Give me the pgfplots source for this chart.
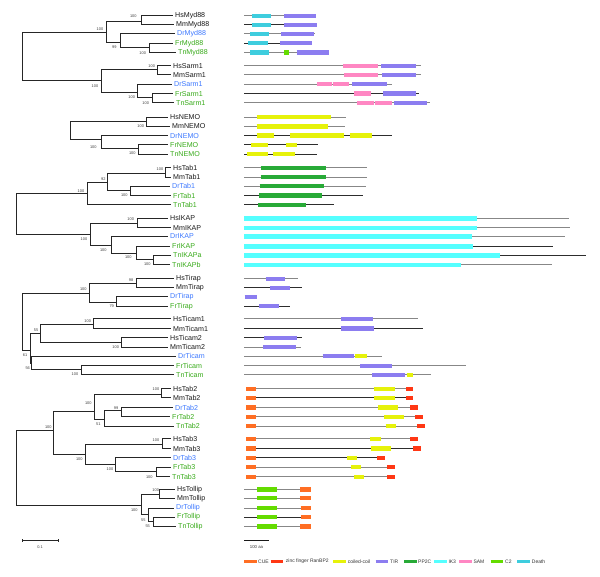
\documentclass[border=0pt]{standalone}
\usepackage{pgfplots}
\pgfplotsset{compat=1.18}
\usepackage{fontspec}
\setmainfont{Liberation Sans}
\definecolor{cHs}{RGB}{25,25,25}
\definecolor{cDr}{RGB}{60,120,255}
\definecolor{cFr}{RGB}{55,170,25}
\definecolor{lg}{RGB}{135,135,135}
\definecolor{lk}{RGB}{45,45,45}
\definecolor{cDeath}{RGB}{62,205,222}
\definecolor{cTIR}{RGB}{140,125,240}
\definecolor{cSAM}{RGB}{255,135,195}
\definecolor{cCC}{RGB}{230,242,10}
\definecolor{cPP}{RGB}{40,170,55}
\definecolor{cIK}{RGB}{85,255,255}
\definecolor{cCUE}{RGB}{255,110,35}
\definecolor{cZnF}{RGB}{255,55,20}
\definecolor{cC2}{RGB}{100,220,0}
\newcommand{\bb}[4]{\addplot[draw=#1,line width=1pt] coordinates {(#2,#4) (#3,#4)};}
\newcommand{\dm}[4]{\addplot[draw=#1,line width=4.3pt] coordinates {(#2,#4) (#3,#4)};}
\newcommand{\lgs}[3]{\addplot[draw=#1,line width=3.2pt] coordinates {(#2,561.5) (#3,561.5)};}
\newcommand{\nd}[5]{\addplot[draw=black!85,line width=1pt] coordinates {(#2,#3) (#1,#3) (#1,#5) (#4,#5)};}
\newcommand{\tx}[4]{\node[anchor=west,inner sep=0pt,text=#1,font=\fontsize{7.1}{8}\selectfont] at (axis cs:#2,#3) {#4};}
\newcommand{\bs}[3]{\node[inner sep=0pt,text=black!75,font=\fontsize{3.9}{4}\selectfont] at (axis cs:#1,#2) {#3};}
\newcommand{\lgt}[2]{\node[anchor=west,inner sep=0pt,text=black!80,font=\fontsize{5}{6}\selectfont] at (axis cs:#1,561.5) {#2};}
\begin{document}
\begin{tikzpicture}
\begin{axis}[at={(0,0)},anchor=south west,scale only axis,width=600pt,height=577pt,
  xmin=0,xmax=600,ymin=0,ymax=577,y dir=reverse,hide axis,clip=false]
% ---------------- tree ----------------
\nd{141.7}{172.5}{15.7}{173.5}{25}
\nd{149}{172.5}{43.3}{175.5}{52.5}
\nd{120}{174.5}{34}{149}{47.5}
\nd{106}{141.7}{22}{120}{42.7}
\nd{157.3}{170.5}{65.8}{170.5}{75}
\nd{152.3}{172.5}{93.6}{173.5}{102.8}
\nd{137.3}{171.5}{84.3}{152.3}{98}
\nd{101.7}{157.3}{70}{137.3}{92.7}
\nd{22}{106}{33}{101.7}{81}
\nd{146.7}{167.5}{117.2}{169.5}{126.5}
\nd{138.3}{167.5}{145}{167.5}{154.3}
\nd{101}{167.5}{135.6}{138.3}{148.3}
\nd{70}{146.7}{121.7}{101}{140}
\nd{165.7}{170.5}{168}{170.5}{177.2}
\nd{130}{169.5}{186.2}{170.5}{195.6}
\nd{107.3}{165.7}{173.3}{130}{191}
\nd{87.3}{107.3}{182.3}{170.5}{204.7}
\nd{137.3}{167.5}{218.5}{170.5}{228}
\nd{153.3}{170.5}{255.4}{169.5}{265}
\nd{136}{169.5}{246.5}{153.3}{260}
\nd{111.7}{167.5}{236.5}{136}{253.3}
\nd{90.7}{137.3}{223.3}{111.7}{245.3}
\nd{16.7}{87.3}{194}{90.7}{234.3}
\nd{136.7}{173.5}{278.8}{173.5}{287.8}
\nd{116.7}{167.5}{297}{167.5}{306.2}
\nd{89}{136.7}{284}{116.7}{302.7}
\nd{93.3}{170.5}{319}{170.5}{328.5}
\nd{121.7}{167.5}{338}{167.5}{347.2}
\nd{40.7}{93.3}{324.3}{121.7}{342.3}
\nd{81.7}{173.5}{365.8}{173.5}{375}
\nd{31.7}{175.5}{356.2}{81.7}{370}
\nd{30}{40.7}{333.3}{31.7}{363.3}
\nd{22.3}{89}{293.3}{30}{350.7}
\nd{161.7}{170.5}{389}{170.5}{397.8}
\nd{121.7}{172.5}{407.5}{169.5}{417}
\nd{104.3}{121.7}{411}{173.5}{426.3}
\nd{94.3}{161.7}{394.3}{104.3}{420}
\nd{162.3}{170.5}{439}{170.5}{448.5}
\nd{156.7}{170.5}{467.2}{169.5}{476.7}
\nd{115.7}{170.5}{458}{156.7}{471.7}
\nd{85}{162.3}{444.3}{115.7}{465}
\nd{53.3}{94.3}{411.7}{85}{454.3}
\nd{159}{174.5}{489.5}{174.5}{498.3}
\nd{153.3}{174.5}{517}{175.5}{526.5}
\nd{148.3}{173.5}{508}{153.3}{521.5}
\nd{141}{159}{494}{148.3}{514}
\nd{16.7}{53.3}{430.7}{141}{505.7}
% scale bar 0.1
\addplot[draw=black!85,line width=0.8pt] coordinates {(22,540.7) (58.3,540.7)};
\addplot[draw=black!85,line width=0.8pt] coordinates {(22,539) (22,542.4)};
\addplot[draw=black!85,line width=0.8pt] coordinates {(58.3,539) (58.3,542.4)};
\bs{40}{547}{0.1}
% bootstrap
\bs{133.3}{16}{100} \bs{100}{28.7}{100} \bs{114.3}{46.7}{99} \bs{142.7}{52.7}{100}
\bs{151.7}{66}{100} \bs{95}{86}{100} \bs{131.7}{97.3}{100} \bs{145.7}{102.7}{100}
\bs{140.7}{125.7}{100} \bs{93.3}{146.7}{100} \bs{132.3}{153.3}{100}
\bs{160}{169.3}{100} \bs{103.3}{179}{92} \bs{81}{190.7}{100} \bs{124.3}{195.3}{100}
\bs{130.7}{219.3}{100} \bs{84}{239}{100} \bs{103.3}{250}{100} \bs{128.3}{257.3}{100} \bs{147.3}{264}{100}
\bs{131}{280}{98} \bs{83.3}{289.3}{100} \bs{111.7}{306}{79}
\bs{87.7}{320.7}{100} \bs{36}{330}{55} \bs{115.7}{346.7}{100} \bs{25}{355}{61} \bs{27.7}{368.3}{56} \bs{75}{374.3}{100}
\bs{156}{389.3}{100} \bs{88.3}{403.3}{100} \bs{116}{407.7}{99} \bs{98.3}{424}{51} \bs{48.3}{426.7}{100}
\bs{156}{440}{100} \bs{79.3}{459.3}{100} \bs{110}{469.3}{100} \bs{149.3}{476.7}{100}
\bs{155.7}{490}{100} \bs{134.3}{510}{100} \bs{143.3}{520}{55} \bs{147.7}{526}{55}
% taxa labels
\tx{cHs}{175}{15.7}{HsMyd88} \tx{cHs}{176}{25}{MmMyd88} \tx{cDr}{177}{34}{DrMyd88} \tx{cFr}{175}{43.3}{FrMyd88} \tx{cFr}{178}{52.5}{TnMyd88}
\tx{cHs}{173}{65.8}{HsSarm1} \tx{cHs}{173}{75}{MmSarm1} \tx{cDr}{174}{84.3}{DrSarm1} \tx{cFr}{175}{93.6}{FrSarm1} \tx{cFr}{176}{102.8}{TnSarm1}
\tx{cHs}{170}{117.2}{HsNEMO} \tx{cHs}{172}{126.5}{MmNEMO} \tx{cDr}{170}{135.6}{DrNEMO} \tx{cFr}{170}{145}{FrNEMO} \tx{cFr}{170}{154.3}{TnNEMO}
\tx{cHs}{173}{168}{HsTab1} \tx{cHs}{173}{177.2}{MmTab1} \tx{cDr}{172}{186.2}{DrTab1} \tx{cFr}{173}{195.6}{FrTab1} \tx{cFr}{173}{204.7}{TnTab1}
\tx{cHs}{170}{218.5}{HsIKAP} \tx{cHs}{173}{228}{MmIKAP} \tx{cDr}{170}{236.5}{DrIKAP} \tx{cFr}{172}{246.5}{FrIKAP} \tx{cFr}{173}{255.4}{TnIKAPa} \tx{cFr}{172}{265}{TnIKAPb}
\tx{cHs}{176}{278.8}{HsTirap} \tx{cHs}{176}{287.8}{MmTirap} \tx{cDr}{170}{297}{DrTirap} \tx{cFr}{170}{306.2}{FrTirap}
\tx{cHs}{173}{319}{HsTicam1} \tx{cHs}{173}{328.5}{MmTicam1} \tx{cHs}{170}{338}{HsTicam2} \tx{cHs}{170}{347.2}{MmTicam2} \tx{cDr}{178}{356.2}{DrTicam} \tx{cFr}{176}{365.8}{FrTicam} \tx{cFr}{176}{375}{TnTicam}
\tx{cHs}{173}{389}{HsTab2} \tx{cHs}{173}{397.8}{MmTab2} \tx{cDr}{175}{407.5}{DrTab2} \tx{cFr}{172}{417}{FrTab2} \tx{cFr}{176}{426.3}{TnTab2}
\tx{cHs}{173}{439}{HsTab3} \tx{cHs}{173}{448.5}{MmTab3} \tx{cDr}{173}{458}{DrTab3} \tx{cFr}{173}{467.2}{FrTab3} \tx{cFr}{172}{476.7}{TnTab3}
\tx{cHs}{177}{489.5}{HsTollip} \tx{cHs}{177}{498.3}{MmTollip} \tx{cDr}{176}{508}{DrTollip} \tx{cFr}{177}{517}{FrTollip} \tx{cFr}{178}{526.5}{TnTollip}
% ---------------- domains ----------------
% Myd88
\bb{lg}{244}{316}{15.7} \dm{cDeath}{251.7}{271}{15.7} \dm{cTIR}{284}{316}{15.7}
\bb{lk}{244}{316.7}{25} \dm{cDeath}{251.7}{271}{25} \dm{cTIR}{284}{316.7}{25}
\bb{lg}{244}{314.7}{34} \dm{cDeath}{250}{269}{34} \dm{cTIR}{281}{313.7}{34}
\bb{lk}{244}{312.3}{43.3} \dm{cDeath}{248.3}{267.7}{43.3} \dm{cTIR}{280}{312}{43.3}
\bb{lg}{244}{329}{52.5} \dm{cDeath}{250}{269.3}{52.5} \dm{cC2}{284.3}{289}{52.5} \dm{cTIR}{296.7}{328.7}{52.5}
% Sarm1
\bb{lg}{244}{420.7}{65.8} \dm{cSAM}{343.3}{360.5}{65.8} \dm{cSAM}{360.9}{377.7}{65.8} \dm{cTIR}{381}{415.7}{65.8}
\bb{lg}{244}{421}{75} \dm{cSAM}{344}{360.5}{75} \dm{cSAM}{360.9}{377.7}{75} \dm{cTIR}{381.7}{415.7}{75}
\bb{lg}{244}{392.3}{84.3} \dm{cSAM}{317}{332.2}{84.3} \dm{cSAM}{332.6}{349}{84.3} \dm{cTIR}{352}{387}{84.3}
\bb{lk}{244}{419.3}{93.6} \dm{cSAM}{354.3}{371}{93.6} \dm{cTIR}{383.3}{416}{93.6}
\bb{lg}{244}{430}{102.8} \dm{cSAM}{357}{374.2}{102.8} \dm{cSAM}{374.6}{391.7}{102.8} \dm{cTIR}{394}{426.7}{102.8}
% NEMO
\bb{lg}{244}{346.3}{117.2} \dm{cCC}{256.7}{330.7}{117.2}
\bb{lg}{244}{344.7}{126.5} \dm{cCC}{256.7}{328.3}{126.5}
\bb{lk}{244}{391.7}{135.6} \dm{cCC}{256.7}{273.7}{135.6} \dm{cCC}{290.3}{344}{135.6} \dm{cCC}{350}{371.7}{135.6}
\bb{lk}{244}{318.3}{145} \dm{cCC}{251.3}{267.7}{145} \dm{cCC}{286.3}{297}{145}
\bb{lk}{244}{316.7}{154.3} \dm{cCC}{247.3}{267.7}{154.3} \dm{cCC}{273.3}{295.3}{154.3}
% Tab1
\bb{lg}{244}{367}{168} \dm{cPP}{260.7}{325.7}{168}
\bb{lg}{244}{366.7}{177.2} \dm{cPP}{260.7}{325.7}{177.2}
\bb{lg}{244}{365.7}{186.2} \dm{cPP}{259.7}{324}{186.2}
\bb{lk}{244}{363.3}{195.6} \dm{cPP}{259.3}{321.7}{195.6}
\bb{lk}{244}{333.7}{204.7} \dm{cPP}{258.3}{305.7}{204.7}
% IKAP
\bb{lg}{244}{569.3}{218.5} \dm{cIK}{244}{476.7}{218.5}
\bb{lg}{244}{569.7}{228} \dm{cIK}{244}{477.3}{228}
\bb{lg}{244}{565}{236.5} \dm{cIK}{244}{471.7}{236.5}
\bb{lk}{244}{553.3}{246.5} \dm{cIK}{244}{473.3}{246.5}
\bb{lk}{244}{586}{255.4} \dm{cIK}{244}{500}{255.4}
\bb{lg}{244}{552.3}{265} \dm{cIK}{244}{461}{265}
% Tirap
\bb{lg}{244}{298}{278.8} \dm{cTIR}{265.7}{285.3}{278.8}
\bb{lk}{244}{301.7}{287.8} \dm{cTIR}{270}{290.3}{287.8}
\dm{cTIR}{244.7}{257}{297}
\bb{lk}{244}{290}{306.2} \dm{cTIR}{259}{279}{306.2}
% Ticam
\bb{lg}{244}{418.3}{319} \dm{cTIR}{341}{372.7}{319}
\bb{lk}{244}{423.3}{328.5} \dm{cTIR}{341.3}{374.3}{328.5}
\bb{lk}{244}{301.7}{338} \dm{cTIR}{264}{296.7}{338}
\bb{lg}{244}{300.7}{347.2} \dm{cTIR}{263}{295.7}{347.2}
\bb{lg}{244}{382.3}{356.2} \dm{cTIR}{322.7}{354.3}{356.2} \dm{cCC}{355}{367}{356.2}
\bb{lg}{244}{466}{365.8} \dm{cTIR}{360}{392.3}{365.8}
\bb{lg}{244}{431}{375} \dm{cTIR}{372}{404.7}{375} \dm{cCC}{406.7}{413.3}{375}
% Tab2
\bb{lg}{246}{413.3}{389} \dm{cCUE}{246}{256.3}{389} \dm{cCC}{373.7}{395}{389} \dm{cZnF}{406}{413.3}{389}
\bb{lk}{246}{413.3}{397.8} \dm{cCUE}{246}{256.3}{397.8} \dm{cCC}{373.7}{395.3}{397.8} \dm{cZnF}{406}{413.3}{397.8}
\bb{lg}{246}{417.7}{407.5} \dm{cCUE}{246}{256.3}{407.5} \dm{cCC}{378}{397.7}{407.5} \dm{cZnF}{410}{417.7}{407.5}
\bb{lg}{246}{422.7}{417} \dm{cCUE}{246}{256.3}{417} \dm{cCC}{384}{403.7}{417} \dm{cZnF}{415.3}{422.7}{417}
\bb{lg}{246}{425}{426.3} \dm{cCUE}{246}{256.3}{426.3} \dm{cCC}{385.7}{396}{426.3} \dm{cZnF}{417.3}{425}{426.3}
% Tab3
\bb{lg}{246}{418}{439} \dm{cCUE}{246}{256.3}{439} \dm{cCC}{370}{381}{439} \dm{cZnF}{410.3}{418}{439}
\bb{lk}{246}{420.7}{448.5} \dm{cCUE}{246}{256.3}{448.5} \dm{cCC}{371}{390.7}{448.5} \dm{cZnF}{413}{420.7}{448.5}
\bb{lk}{246}{384.7}{458} \dm{cCUE}{246}{256.3}{458} \dm{cCC}{347}{357}{458} \dm{cZnF}{377}{384.7}{458}
\bb{lg}{246}{394.7}{467.2} \dm{cCUE}{246}{256.3}{467.2} \dm{cCC}{351.3}{361}{467.2} \dm{cZnF}{387.3}{394.7}{467.2}
\bb{lg}{246}{394.7}{476.7} \dm{cCUE}{246}{256.3}{476.7} \dm{cCC}{354}{363.7}{476.7} \dm{cZnF}{387.3}{394.7}{476.7}
% Tollip
\bb{lg}{244}{310.7}{489.5} \dm{cC2}{257.3}{277.3}{489.5} \dm{cCUE}{300}{310.7}{489.5}
\bb{lg}{244}{310.7}{498.3} \dm{cC2}{257.3}{277.3}{498.3} \dm{cCUE}{300}{310.7}{498.3}
\bb{lg}{244}{311}{508} \dm{cC2}{257.3}{277.3}{508} \dm{cCUE}{300.7}{311}{508}
\bb{lk}{244}{311.3}{517} \dm{cC2}{257.3}{277.3}{517} \dm{cCUE}{301}{311.3}{517}
\bb{lg}{244}{310.7}{526.5} \dm{cC2}{257.3}{277.3}{526.5} \dm{cCUE}{300}{310.7}{526.5}
% scale bar 100 aa
\addplot[draw=black!90,line width=0.9pt] coordinates {(244,540.7) (269.3,540.7)};
\node[inner sep=0pt,text=black!80,font=\fontsize{4.3}{5}\selectfont] at (axis cs:256.5,546.6) {100 aa};
% legend
\lgs{cCUE}{244}{256.7} \lgt{258}{CUE}
\lgs{cZnF}{270.7}{283.3} \lgt{285.7}{zinc finger RanBP2}
\lgs{cCC}{333.3}{346} \lgt{347.7}{coiled-coil}
\lgs{cTIR}{375.7}{388.3} \lgt{390}{TIR}
\lgs{cPP}{404.3}{416.7} \lgt{418}{PP2C}
\lgs{cIK}{434.3}{446.7} \lgt{448.3}{IK3}
\lgs{cSAM}{459.3}{471.7} \lgt{473.3}{SAM}
\lgs{cC2}{490.7}{503.3} \lgt{505}{C2}
\lgs{cDeath}{517.3}{530} \lgt{531.7}{Death}
\end{axis}
\pgfresetboundingbox
\path (0,0) rectangle (600pt,577pt);
\end{tikzpicture}
\end{document}
